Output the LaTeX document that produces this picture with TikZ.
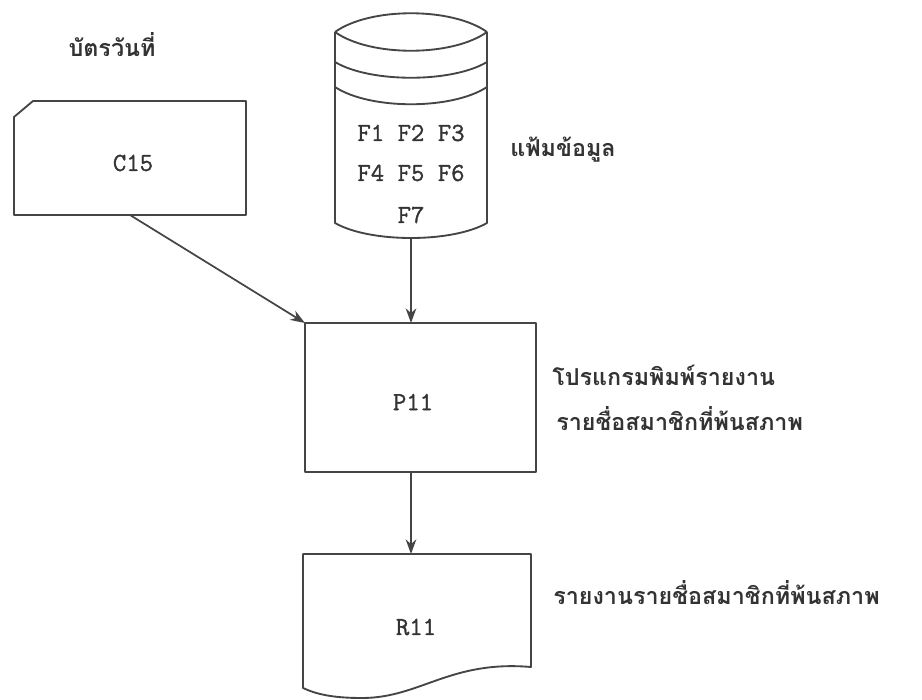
\documentclass[tikz,border=0pt]{standalone}
\usepackage{fontspec}
\newfontfamily\thai[Script=Thai]{Loma}
\newfontfamily\codefont[AutoFakeBold=1.2]{Latin Modern Mono}
\usetikzlibrary{arrows.meta,fit}
\definecolor{ink}{HTML}{454545}
\definecolor{txt}{HTML}{333333}
\begin{document}
\begin{tikzpicture}[x=0.75pt,y=-0.75pt,
  outline/.style={draw=ink, line width=1.4pt, line join=round},
  frame/.style={inner sep=0pt, outer sep=0pt},
  lbl/.style={font=\thai\bfseries\fontsize{17.5}{20}\selectfont, text=txt, anchor=west, inner sep=0pt},
  code/.style={font=\codefont\bfseries\fontsize{19.5}{22}\selectfont, text=txt, inner sep=0pt},
  flow/.style={draw=ink, line width=1.3pt, -{Stealth[length=11pt,width=8pt]}}]
\useasboundingbox (0,0) rectangle (922,700);

% card
\node[frame, fit={(14,101)(246,215)}] (card) {};
\draw[outline] (14,117) -- (33,101) -- (246,101) -- (246,215) -- (14,215) -- cycle;
\node[code] (c15) at (133,163) {C15};
\node[lbl, anchor=center] (cardlbl) at (112,45) {บัตรวันที่};

% data file cylinder
\node[frame, fit={(335,13)(487,238)}] (db) {};
\draw[outline] (335,32) .. controls (370,7) and (452,7) .. (487,32);
\draw[outline] (335,32) .. controls (370,57) and (452,57) .. (487,32);
\draw[outline] (335,62) .. controls (370,83) and (452,83) .. (487,62);
\draw[outline] (335,87) .. controls (370,110) and (452,110) .. (487,87);
\draw[outline] (335,32) -- (335,223) .. controls (370,243) and (452,243) .. (487,223) -- (487,32);
\node[code] (f1) at (411,133) {F1 F2 F3};
\node[code] (f2) at (411,173) {F4 F5 F6};
\node[code] (f3) at (411,215) {F7};
\node[lbl] (dblbl) at (510,150) {แฟ้มข้อมูล};

% program
\node[frame, outline, fit={(305,323)(536,472)}] (p11) {};
\node[code] (p11t) at (413,402) {P11};
\node[lbl] (plbl1) at (552,375) {โปรแกรมพิมพ์รายงาน};
\node[lbl] (plbl2) at (556,419) {รายชื่อสมาชิกที่พ้นสภาพ};

% report document
\node[frame, fit={(303,554)(531,700)}] (rep) {};
\draw[outline] (303,554) -- (531,554) -- (531,667)
  .. controls (450,660) and (420,698) .. (362,698)
  .. controls (332,698) and (316,694) .. (303,688) -- cycle;
\node[code] (r11t) at (416,627) {R11};
\node[lbl] (rlbl) at (553,593) {รายงานรายชื่อสมาชิกที่พ้นสภาพ};

% connectors
\draw[flow] (card.south) -- (p11.north west);
\draw[flow] (db.south) -- (db.south |- p11.north);
\draw[flow] (db.south |- p11.south) -- (db.south |- rep.north);
\end{tikzpicture}
\end{document}
